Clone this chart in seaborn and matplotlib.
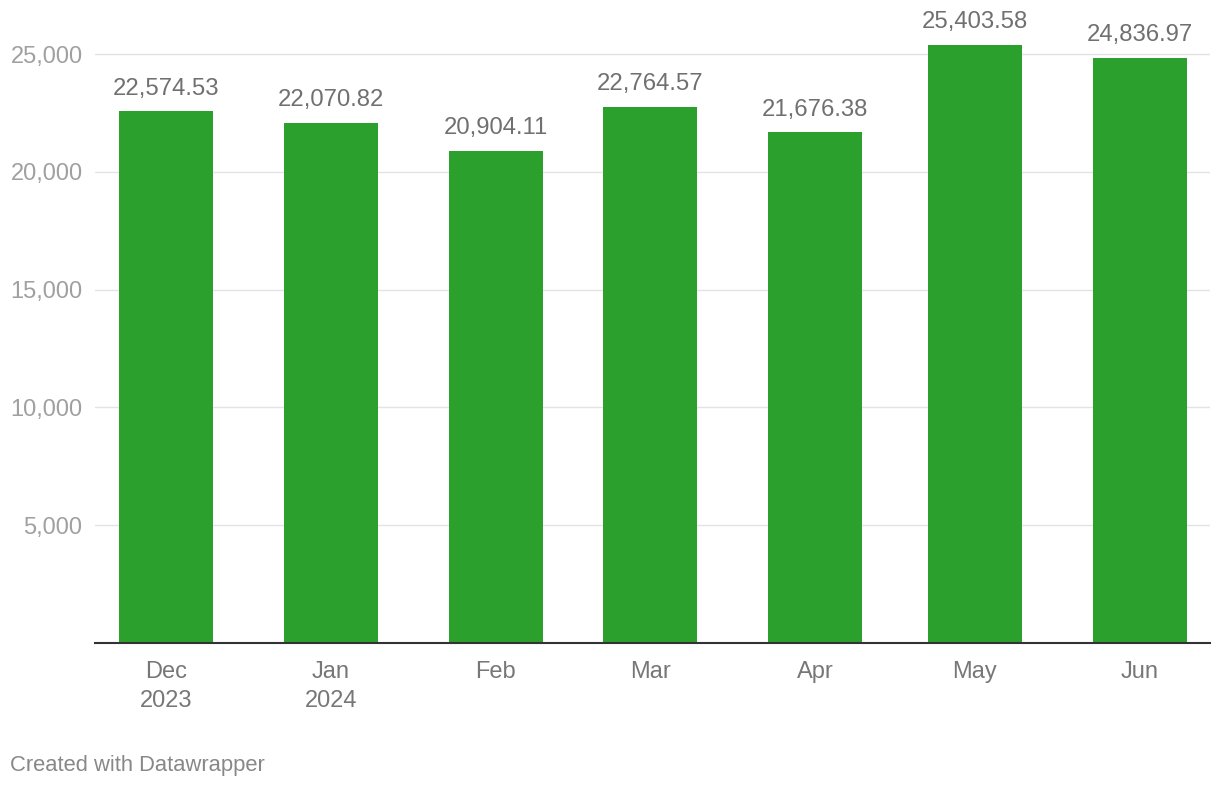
import matplotlib
matplotlib.use("Agg")
import matplotlib.pyplot as plt
import seaborn as sns
import pandas as pd

# ---- data ----
months = ["2023-12-01", "2024-01-01", "2024-02-01", "2024-03-01",
          "2024-04-01", "2024-05-01", "2024-06-01"]
values = [22574.53, 22070.82, 20904.11, 22764.57, 21676.38, 25403.58, 24836.97]
tick_labels = ["Dec\n2023", "Jan\n2024", "Feb", "Mar", "Apr", "May", "Jun"]
y_ticks = [5000, 10000, 15000, 20000, 25000]

sns.set_theme(style="white")
plt.rcParams["font.family"] = ["Liberation Sans", "DejaVu Sans"]

dates = pd.to_datetime(months)
days = (dates - dates[0]).days.astype(float)
df = pd.DataFrame({"day": days, "value": values})

fig = plt.figure(figsize=(12.2, 7.88), dpi=100)
W, H = 1220, 788
ax = fig.add_axes([95 / W, (H - 643) / H, (1210 - 95) / W, (643 - 7) / H])

sns.barplot(data=df, x="day", y="value", native_scale=True, width=0.609,
            color="#2ca02c", saturation=1, ax=ax, zorder=3, linewidth=0)

ax.set_xlim(-13.34, 196.2)
ax.set_ylim(0, 27000)
ax.set_xticks(days)
ax.set_xticklabels(tick_labels, linespacing=1.38)
ax.set_yticks(y_ticks)
ax.set_yticklabels([f"{v:,}" for v in y_ticks])
ax.tick_params(axis="x", length=0, pad=13, labelsize=17, labelcolor="#777777")
ax.tick_params(axis="y", length=0, pad=9, labelsize=17, labelcolor="#a0a0a0")
ax.set_xlabel("")
ax.set_ylabel("")
ax.grid(axis="y", color="#e3e3e3", linewidth=1.0, zorder=0)
ax.grid(axis="x", visible=False)
for s in ["top", "right", "left"]:
    ax.spines[s].set_visible(False)
ax.spines["bottom"].set_color("#333333")
ax.spines["bottom"].set_linewidth(1.5)
ax.spines["bottom"].set_zorder(5)

for d, v in zip(days, values):
    ax.annotate(f"{v:,.2f}", xy=(d, v), xytext=(0, 12), textcoords="offset points",
                ha="center", va="baseline", fontsize=17.2, color="#707070")

fig.text(10 / W, (H - 765) / H, "Created with Datawrapper", ha="left", va="center",
         fontsize=15.8, color="#888888")

fig.savefig("out.png", dpi=100)
